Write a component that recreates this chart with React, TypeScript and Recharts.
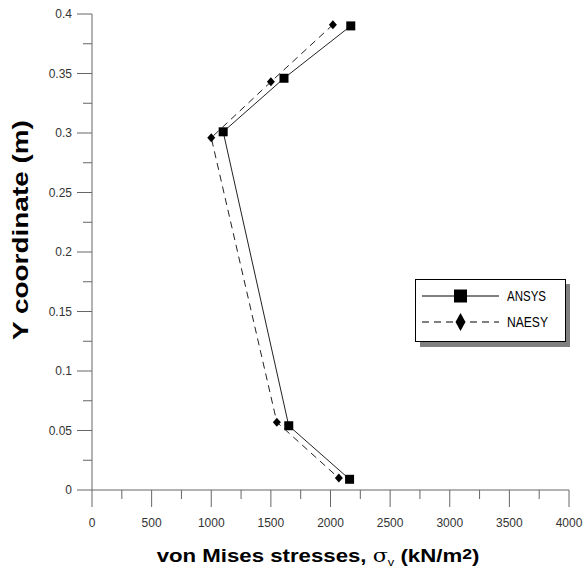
import React from 'react';
import { ScatterChart, Scatter, XAxis, YAxis, Legend } from 'recharts';

// von Mises stress (kN/m2) against Y coordinate (m)
const ansysStress = [2170, 1610, 1100, 1650, 2160];
const ansysY = [0.39, 0.346, 0.301, 0.054, 0.009];
const naesyStress = [2020, 1500, 1000, 1550, 2070];
const naesyY = [0.391, 0.343, 0.296, 0.057, 0.01];
const seriesNames = ['ANSYS', 'NAESY'];

const xTicks = [0, 250, 500, 750, 1000, 1250, 1500, 1750, 2000, 2250, 2500, 2750, 3000, 3250, 3500, 3750, 4000];
const yTicks = [0, 0.025, 0.05, 0.075, 0.1, 0.125, 0.15, 0.175, 0.2, 0.225, 0.25, 0.275, 0.3, 0.325, 0.35, 0.375, 0.4];

const toPoints = (xs: number[], ys: number[]) => xs.map((x, i) => ({ x, y: ys[i] }));
const ansysData = toPoints(ansysStress, ansysY);
const naesyData = toPoints(naesyStress, naesyY);

const AXIS = '#666';
const TEXT = '#333';
const FONT = '"Liberation Sans", Arial, sans-serif';

const isMajor = (v: number, step: number) => Math.abs(v / step - Math.round(v / step)) < 1e-6;

function XTick({ x, y, payload }: any) {
  const v = payload.value;
  const major = isMajor(v, 500);
  return (
    <g>
      <line x1={x} x2={x} y1={y} y2={y + (major ? 17 : 9)} stroke={AXIS} />
      {major && (
        <text x={x} y={y + 33} textAnchor="middle" dominantBaseline="central" fontSize={12} fill={TEXT} fontFamily={FONT}>
          {v}
        </text>
      )}
    </g>
  );
}

function YTick({ x, y, payload }: any) {
  const v = payload.value;
  const major = isMajor(v, 0.05);
  return (
    <g>
      <line x1={x - (major ? 15 : 9)} x2={x} y1={y} y2={y} stroke={AXIS} />
      {major && (
        <text x={x - 20} y={y} textAnchor="end" dominantBaseline="central" fontSize={12} fill={TEXT} fontFamily={FONT}>
          {parseFloat(v.toFixed(3))}
        </text>
      )}
    </g>
  );
}

const SquareDot = ({ cx, cy }: any) => <rect x={cx - 4.5} y={cy - 4.5} width={9} height={9} fill="#000" />;
const DiamondDot = ({ cx, cy }: any) => (
  <path d={`M${cx},${cy - 4.5}L${cx + 4},${cy}L${cx},${cy + 4.5}L${cx - 4},${cy}Z`} fill="#000" />
);

function LegendBox() {
  return (
    <svg width={160} height={70}>
      <rect x={5} y={5} width={150} height={63} fill="#808080" />
      <rect x={0.5} y={0.5} width={150} height={62} fill="#fff" stroke="#000" />
      <line x1={7} x2={84} y1={17} y2={17} stroke="#000" />
      <rect x={39} y={10.5} width={13} height={13} fill="#000" />
      <line x1={7} x2={84} y1={43} y2={43} stroke="#000" strokeDasharray="7 5" />
      <path d="M45.5,34L50.5,43L45.5,52L40.5,43Z" fill="#000" />
      <text x={92} y={17} dominantBaseline="central" fontSize={14} textLength={39} lengthAdjust="spacingAndGlyphs" fontFamily={FONT} fill="#000">
        {seriesNames[0]}
      </text>
      <text x={92} y={43} dominantBaseline="central" fontSize={14} textLength={41} lengthAdjust="spacingAndGlyphs" fontFamily={FONT} fill="#000">
        {seriesNames[1]}
      </text>
    </svg>
  );
}

export default function App() {
  return (
    <div style={{ position: 'absolute', left: 0, top: 0, width: 583, height: 569, background: '#fff', fontFamily: FONT }}>
      <ScatterChart width={583} height={569} margin={{ top: 14, right: 14, left: 0, bottom: 0 }}>
        <XAxis
          type="number"
          dataKey="x"
          domain={[0, 4000]}
          ticks={xTicks}
          interval={0}
          tickSize={0}
          tickMargin={0}
          tick={<XTick />}
          height={79}
          stroke={AXIS}
          allowDataOverflow
        />
        <YAxis
          type="number"
          dataKey="y"
          domain={[0, 0.4]}
          ticks={yTicks}
          interval={0}
          tickSize={0}
          tickMargin={0}
          tick={<YTick />}
          width={92}
          stroke={AXIS}
          allowDataOverflow
        />
        <Legend
          content={<LegendBox />}
          layout="vertical"
          align="center"
          verticalAlign="middle"
          wrapperStyle={{ position: 'absolute', left: 415, top: 279, width: 160, height: 70 }}
        />
        <Scatter
          name={seriesNames[0]}
          data={ansysData}
          shape={<SquareDot />}
          line={{ stroke: '#222', strokeWidth: 1 }}
          lineType="joint"
          isAnimationActive={false}
        />
        <Scatter
          name={seriesNames[1]}
          data={naesyData}
          shape={<DiamondDot />}
          line={{ stroke: '#222', strokeWidth: 1, strokeDasharray: '7 5' }}
          lineType="joint"
          isAnimationActive={false}
        />
      </ScatterChart>
      <svg width={583} height={569} style={{ position: 'absolute', left: 0, top: 0, pointerEvents: 'none' }}>
        <g transform="translate(20,230) rotate(-90) scale(1.27,1)">
          <text x={0} y={0} textAnchor="middle" dominantBaseline="central" fontSize={22} fontWeight="bold" fontFamily={FONT} fill="#000">
            Y coordinate (m)
          </text>
        </g>
        <g transform="translate(318,562) scale(1.17,1)">
          <text x={0} y={0} textAnchor="middle" fontSize={19} fontWeight="bold" fontFamily={FONT} fill="#000">
            von Mises stresses,{' '}
            <tspan fontWeight="normal" fontFamily="'DejaVu Serif', serif">σ</tspan>
            <tspan fontWeight="normal" fontSize={11} dy={4}>v</tspan>
            <tspan dy={-4}> (kN/m</tspan>
            <tspan fontSize={15} dy={-3}>2</tspan>
            <tspan dy={3}>)</tspan>
          </text>
        </g>
      </svg>
    </div>
  );
}
